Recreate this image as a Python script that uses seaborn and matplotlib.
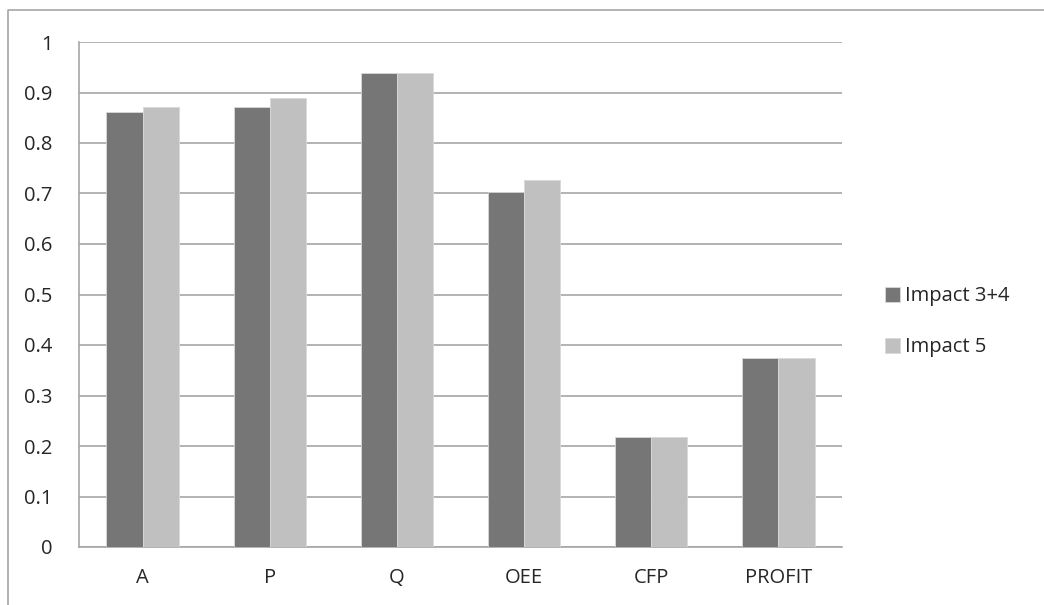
import numpy as np
import pandas as pd
import matplotlib
matplotlib.use("Agg")
import matplotlib.pyplot as plt
import seaborn as sns
from matplotlib.lines import Line2D

# 데이터
categories = ["A", "P", "Q", "OEE", "CFP", "PROFIT"]
impact_34 = [0.861, 0.871, 0.939, 0.703, 0.218, 0.374]
impact_5 = [0.871, 0.889, 0.939, 0.727, 0.218, 0.374]
series_names = ["Impact 3+4", "Impact 5"]

df = pd.DataFrame({
    "category": categories * 2,
    "value": impact_34 + impact_5,
    "series": [series_names[0]] * len(categories) + [series_names[1]] * len(categories),
})

sns.set_style("white")
plt.rcParams["font.family"] = ["Open Sans", "DejaVu Sans"]
fs = 14.5

W, H = 1044, 605
fig = plt.figure(figsize=(W / 100, H / 100), dpi=100)
ax = fig.add_axes([79 / W, (H - 547) / H, (842 - 79) / W, (547 - 42) / H])

sns.barplot(data=df, x="category", y="value", hue="series", order=categories,
            hue_order=series_names, palette=["#767676", "#c0c0c0"],
            width=0.57, edgecolor="#d8d8d8", linewidth=0.6, ax=ax, zorder=3)

ax.set_xlim(-0.5, len(categories) - 0.5)
ax.set_ylim(0, 1)
ax.set_yticks(np.arange(0, 1.01, 0.1))
ax.set_yticklabels(["0", "0.1", "0.2", "0.3", "0.4", "0.5", "0.6", "0.7", "0.8", "0.9", "1"])
ax.yaxis.grid(True, color="#a6a6a6", linewidth=1.2, zorder=0)
ax.set_axisbelow(True)

# x축 눈금은 카테고리 경계에
ax.set_xticks(np.arange(-0.5, len(categories), 1.0), minor=True)
ax.tick_params(axis="x", which="major", length=0, pad=15, labelsize=fs)
ax.tick_params(axis="x", which="minor", length=6, width=1.2, color="#a6a6a6", direction="out")
ax.tick_params(axis="y", which="major", length=7, width=1.2, color="#a6a6a6",
               direction="out", pad=12, labelsize=fs)
ax.set_xlabel("")
ax.set_ylabel("")

for side in ["top", "right"]:
    ax.spines[side].set_visible(False)
for side in ["left", "bottom"]:
    ax.spines[side].set_color("#a6a6a6")
    ax.spines[side].set_linewidth(1.2)

leg = ax.legend(loc="center left", bbox_to_anchor=(1.033, 0.446), frameon=False,
                handlelength=0.75, handleheight=0.75, handletextpad=0.25,
                labelspacing=1.55, fontsize=fs)

# 외곽 테두리 (위쪽, 왼쪽만)
fig.lines.append(Line2D([7.5 / W, 7.5 / W, 1.0], [0.0, 1 - 9.5 / H, 1 - 9.5 / H],
                        transform=fig.transFigure, color="#a6a6a6", linewidth=1.2))

fig.savefig("out.png", dpi=100)
